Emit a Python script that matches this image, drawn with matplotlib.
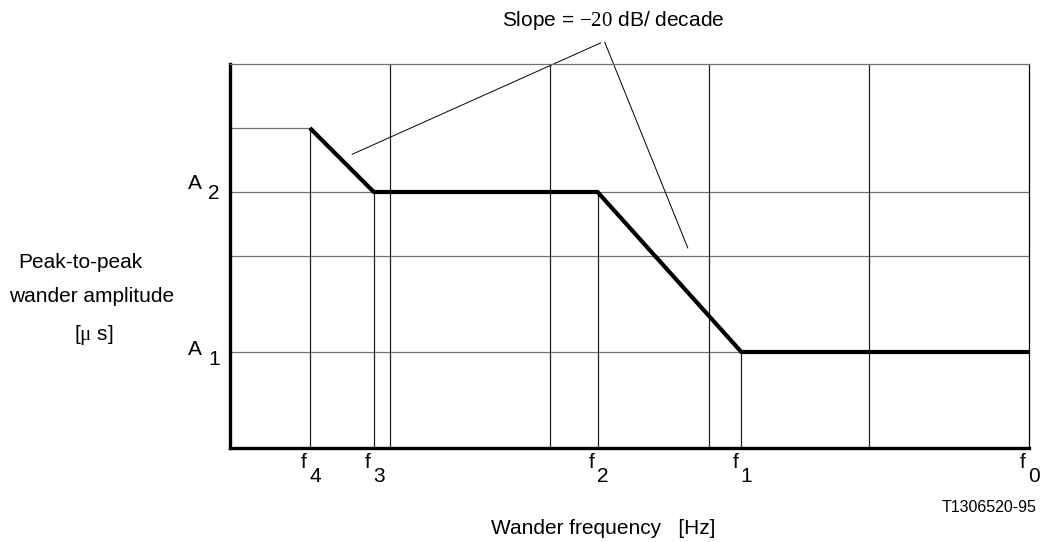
import matplotlib
matplotlib.use("Agg")
import matplotlib.pyplot as plt

plt.rcParams['font.family'] = ['Liberation Sans', 'DejaVu Sans']
plt.rcParams['mathtext.fontset'] = 'custom'
plt.rcParams['mathtext.rm'] = 'Liberation Serif'
plt.rcParams['mathtext.it'] = 'Liberation Serif:italic'
plt.rcParams['mathtext.bf'] = 'Liberation Serif:bold'

# ---- data (abstract log-frequency positions / amplitude levels) ----
freq_names = ['4', '3', '2', '1', '0']
freq_pos = [1.0, 1.8, 4.6, 6.4, 10.0]
mask_x = [1.0, 1.8, 4.6, 6.4, 10.0]
mask_y = [5.0, 4.0, 4.0, 1.5, 1.5]
amp_names = ['2', '1']
amp_levels = [4.0, 1.5]
full_vgrid = [2.0, 4.0, 6.0, 8.0]
full_hgrid = [4.0, 3.0, 1.5]
x_max = 10.0
y_max = 6.0

fig = plt.figure(figsize=(10.43, 5.42), dpi=100)
ax = fig.add_axes([230/1043, 1-448/542, (1029-230)/1043, (448-64)/542])
ax.set_xlim(0, x_max)
ax.set_ylim(0, y_max)
ax.set_xticks([])
ax.set_yticks([])

for s in ['left', 'bottom']:
    ax.spines[s].set_linewidth(2.4)
    ax.spines[s].set_color('black')
ax.spines['top'].set_linewidth(0.9)
ax.spines['top'].set_color('#707070')
ax.spines['right'].set_linewidth(0.9)
ax.spines['right'].set_color('black')

gcol_h = '#707070'
gcol_v = '#202020'
lw_g = 0.9

# horizontal grid lines
for yv in full_hgrid:
    ax.plot([0, x_max], [yv, yv], color=gcol_h, lw=lw_g, zorder=1)
ax.plot([0, mask_x[0]], [mask_y[0], mask_y[0]], color=gcol_h, lw=lw_g, zorder=1)

# vertical grid lines
for xv in full_vgrid:
    ax.plot([xv, xv], [0, y_max], color=gcol_v, lw=lw_g, zorder=1)
for xv, yv in zip(mask_x[:-1], mask_y[:-1]):
    ax.plot([xv, xv], [0, yv], color=gcol_v, lw=lw_g, zorder=1)

# mask curve
ax.plot(mask_x, mask_y, color='black', lw=3.0, solid_capstyle='butt',
        solid_joinstyle='miter', zorder=3)

# slope annotation leader lines
ax.plot([1.53, 4.64], [4.59, 6.33], color='black', lw=0.7, clip_on=False, zorder=2)
ax.plot([4.69, 5.73], [6.34, 3.125], color='black', lw=0.7, clip_on=False, zorder=2)

fs = 15

def px2fig(x, y):
    return x/1043, 1 - y/542

fig.text(*px2fig(613, 20), r'Slope = $\mathrm{-20}$ dB/ decade', fontsize=fs,
         ha='center', va='center')

# frequency labels
for name, xv in zip(freq_names, freq_pos):
    ax.annotate('f', xy=(xv, 0), xycoords='data', xytext=(-6, -14),
                textcoords='offset pixels', ha='center', va='center', fontsize=fs,
                annotation_clip=False)
    ax.annotate(name, xy=(xv, 0), xycoords='data', xytext=(5, -28),
                textcoords='offset pixels', ha='center', va='center', fontsize=fs,
                annotation_clip=False)

# amplitude labels
amp_off = {'2': (-9, 1), '1': (-3, -7)}
for name, yv in zip(amp_names, amp_levels):
    oa, ob = amp_off[name]
    ax.annotate('A', xy=(0, yv), xycoords='data', xytext=(-35, -oa),
                textcoords='offset pixels', ha='center', va='center', fontsize=fs,
                annotation_clip=False)
    ax.annotate(name, xy=(0, yv), xycoords='data', xytext=(-16, -(oa+12)+2),
                textcoords='offset pixels', ha='center', va='center', fontsize=fs,
                annotation_clip=False)

fig.text(*px2fig(80, 262), 'Peak-to-peak', fontsize=fs, ha='center', va='center')
fig.text(*px2fig(92, 297), 'wander amplitude', fontsize=fs, ha='center', va='center')
fig.text(*px2fig(94, 335), '[$\\mathrm{\\mu}$ s]', fontsize=fs, ha='center', va='center')

fig.text(*px2fig(603, 528), 'Wander frequency   [Hz]', fontsize=fs, ha='center', va='center')
fig.text(*px2fig(1037, 508), 'T1306520-95', fontsize=11.5, ha='right', va='center')

fig.savefig('out.png', dpi=100)
